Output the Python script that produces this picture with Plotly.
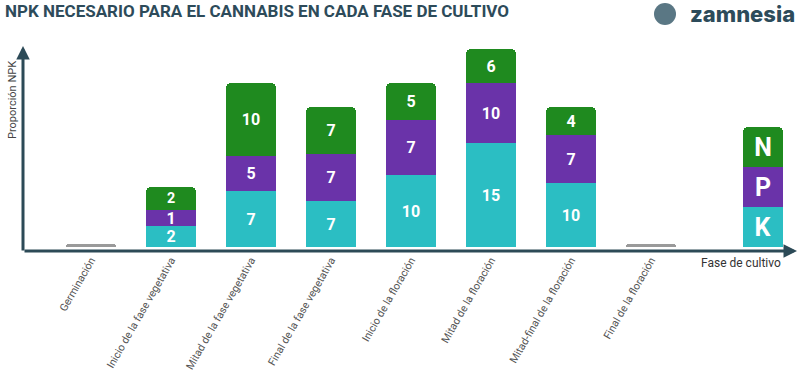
import plotly.graph_objects as go

# ---- data ----
categories = ["Germinación", "Inicio de la fase vegetativa", "Mitad de la fase vegetativa",
              "Final de la fase vegetativa", "Inicio de la floración", "Mitad de la floración",
              "Mitad-final de la floración", "Final de la floración"]
stage_x = [1, 2, 3, 4, 5, 6]            # stages that carry an NPK bar
empty_x = [0, 7]                        # stages drawn as a grey placeholder
# printed NPK ratios
k_values = [2, 7, 7, 10, 15, 10]
p_values = [1, 5, 7, 7, 10, 7]
n_values = [2, 10, 7, 5, 6, 4]
# drawn segment heights as read from the infographic (not proportional to the ratios)
k_height = [21, 56, 46, 72, 104, 64]
p_height = [16, 35, 47, 55, 60, 48]
n_height = [23, 73, 47, 37, 34, 28]
empty_height = [3, 3]
legend_letters = ["K", "P", "N"]
legend_height = [40, 40, 40]

C_K = "#2bbec3"
C_P = "#6a33a9"
C_N = "#1f8a1f"
C_AX = "#2c4a57"
BOLD = "Roboto, sans-serif"

W, H = 801, 373
ML, MR, MT, MB = 23, 0, 30, 122
PW, PH = W - ML - MR, H - MT - MB


def px(xp):
    return (xp - ML) / PW


def py(yp):
    return (H - MB - yp) / PH


fig = go.Figure()

for name, vals, hts, col in [("K", k_values, k_height, C_K),
                             ("P", p_values, p_height, C_P),
                             ("N", n_values, n_height, C_N)]:
    fig.add_trace(go.Bar(
        x=stage_x, y=hts, name=name, marker=dict(color=col, line=dict(width=0)),
        width=0.625, text=[str(v) for v in vals], textposition="inside",
        insidetextanchor="middle", constraintext="none", textangle=0,
        insidetextfont=dict(family=BOLD, size=16, color="white", weight="bold"),
        hoverinfo="skip", cliponaxis=False))

fig.add_trace(go.Bar(x=empty_x, y=empty_height, width=0.625,
                     marker=dict(color="#9a9a9a", line=dict(width=0)), hoverinfo="skip"))

for letter, h, col in zip(legend_letters, legend_height, [C_K, C_P, C_N]):
    fig.add_trace(go.Bar(
        x=[8.4], y=[h], width=0.5, marker=dict(color=col, line=dict(width=0)),
        text=[letter], textposition="inside", insidetextanchor="middle",
        constraintext="none", textangle=0,
        insidetextfont=dict(family=BOLD, size=25, color="white", weight="bold"),
        hoverinfo="skip"))

fig.update_layout(
    width=W, height=H, margin=dict(l=ML, r=MR, t=MT, b=MB, autoexpand=False),
    barmode="stack", barcornerradius=5, showlegend=False,
    paper_bgcolor="white", plot_bgcolor="white",
    xaxis=dict(range=[-0.85, -0.85 + PW / 80], tickvals=list(range(len(categories))),
               ticktext=categories, tickangle=-60, showgrid=False, zeroline=False,
               showline=False, ticks="", automargin=False,
               tickfont=dict(family="Roboto", size=10.7, color="#555")),
    yaxis=dict(range=[-4, PH - 4], showgrid=False, zeroline=False, showline=False,
               showticklabels=False, ticks="", automargin=False),
)

ann = []
# axes with arrowheads
ann.append(dict(x=px(797), y=py(251), xref="paper", yref="paper", ax=-(797 - 23), ay=0,
                axref="pixel", ayref="pixel", text="", showarrow=True, arrowhead=2,
                arrowsize=0.9, arrowwidth=3, arrowcolor=C_AX, standoff=0))
ann.append(dict(x=px(23), y=py(46), xref="paper", yref="paper", ax=0, ay=252 - 46,
                axref="pixel", ayref="pixel", text="", showarrow=True, arrowhead=2,
                arrowsize=0.9, arrowwidth=3, arrowcolor=C_AX, standoff=0))
# title
ann.append(dict(x=px(3), y=py(11), xref="paper", yref="paper", xanchor="left", yanchor="middle",
                text="NPK NECESARIO PARA EL CANNABIS EN CADA FASE DE CULTIVO", showarrow=False,
                font=dict(family=BOLD, size=17, color="#2d4b5a", weight="bold")))
# logo text
ann.append(dict(x=px(797), y=py(14), xref="paper", yref="paper", xanchor="right", yanchor="middle",
                text="zamnesia", showarrow=False,
                font=dict(family="Inter, Lato, sans-serif", size=22, color="#2d4b5a", weight=800)))
# axis titles
ann.append(dict(x=px(12), y=py(100), xref="paper", yref="paper", xanchor="center", yanchor="middle",
                text="Proporción NPK", textangle=-90, showarrow=False,
                font=dict(family="Roboto", size=11, color="#444")))
ann.append(dict(x=px(783), y=py(263), xref="paper", yref="paper", xanchor="right", yanchor="middle",
                text="Fase de cultivo", showarrow=False,
                font=dict(family="Roboto", size=12, color="#333")))
fig.update_layout(annotations=ann)

# small logo emblem
fig.add_shape(type="circle", xref="paper", yref="paper", x0=px(654), x1=px(676),
              y0=py(25), y1=py(3), fillcolor="#5a7784", line=dict(width=0))

fig.write_html("out.html", config={"displayModeBar": False, "staticPlot": True},
               post_script="document.body.style.margin='0';document.body.style.overflow='hidden';")
